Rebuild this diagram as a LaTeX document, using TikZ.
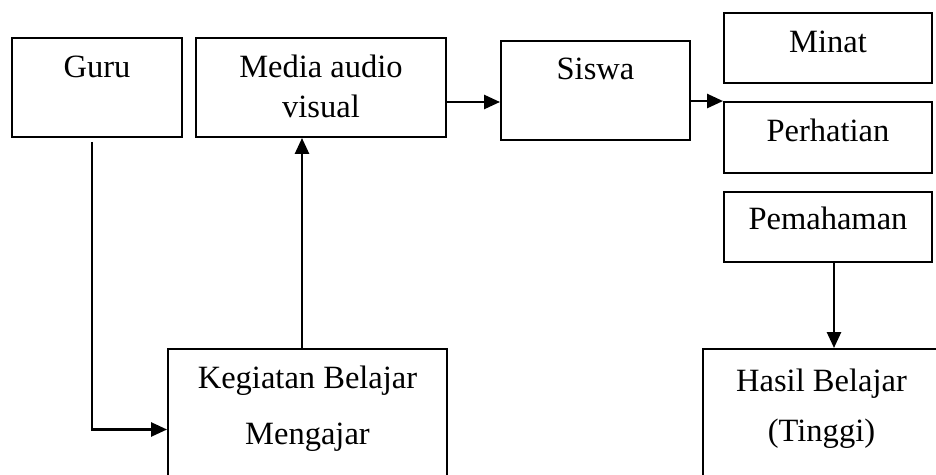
\documentclass[tikz,border=0pt]{standalone}
\usepackage{fontspec}
\setmainfont{Liberation Serif}
\usetikzlibrary{arrows.meta, positioning}

\begin{document}
\begin{tikzpicture}[
  kotak/.style={draw, line width=1.1pt, inner sep=0pt},
  teks/.style={anchor=base, inner sep=0pt, align=center, font=\fontsize{18.5}{22}\selectfont},
  panah/.style={line width=1.5pt, -{Triangle[length=0.32cm, width=0.28cm]}}
]
\clip (0,0) rectangle (18.72,-9.5);
% kotak
\node[kotak, minimum width=3.4cm, minimum height=1.98cm] (guru) at (1.94,-1.75) {};
\node[kotak, minimum width=5cm, minimum height=1.98cm] (media) at (6.42,-1.75) {};
\node[kotak, minimum width=3.78cm, minimum height=1.98cm] (siswa) at (11.91,-1.81) {};
\node[kotak, minimum width=4.16cm, minimum height=1.4cm] (minat) at (16.56,-0.96) {};
\node[kotak, minimum width=4.16cm, minimum height=1.42cm] (perhatian) at (16.56,-2.75) {};
\node[kotak, minimum width=4.16cm, minimum height=1.4cm] (pemahaman) at (16.56,-4.54) {};
\node[kotak, minimum width=5.58cm, minimum height=3.22cm] (kegiatan) at (6.15,-8.59) {};
\node[kotak, minimum width=4.74cm, minimum height=3.22cm] (hasil) at (16.43,-8.59) {};
% teks (anchor base = baris terakhir)
\node[teks] (tguru) at ([yshift=-0.8cm]guru.north) {Guru};
\node[teks] (tmedia) at ([yshift=-1.6cm]media.north) {Media audio\\[0.02cm]visual};
\node[teks] (tsiswa) at ([yshift=-0.78cm]siswa.north) {Siswa};
\node[teks] (tminat) at ([yshift=-0.8cm]minat.north) {Minat};
\node[teks] (tperhatian) at ([yshift=-0.8cm]perhatian.north) {Perhatian};
\node[teks] (tpemahaman) at ([yshift=-0.76cm]pemahaman.north) {Pemahaman};
\node[teks] (tkegiatan) at ([yshift=-1.92cm]kegiatan.north) {Kegiatan Belajar\\[0.33cm]Mengajar};
\node[teks] (thasil) at ([yshift=-1.86cm]hasil.north) {Hasil Belajar\\[0.22cm](Tinggi)};
% panah
\draw[panah] ([xshift=-0.1cm, yshift=-0.08cm]guru.south) |- (kegiatan.west);
\draw[panah] ([xshift=-0.11cm]kegiatan.north) -- ([xshift=-0.11cm]kegiatan.north |- media.south);
\draw[panah] ([yshift=-0.29cm]media.east) -- ([yshift=-0.29cm]media.east -| siswa.west);
\draw[panah] (siswa.east |- perhatian.north west) -- (perhatian.north west);
\draw[panah] ([xshift=0.12cm]pemahaman.south) -- ([xshift=0.12cm]pemahaman.south |- hasil.north);
\end{tikzpicture}
\end{document}
